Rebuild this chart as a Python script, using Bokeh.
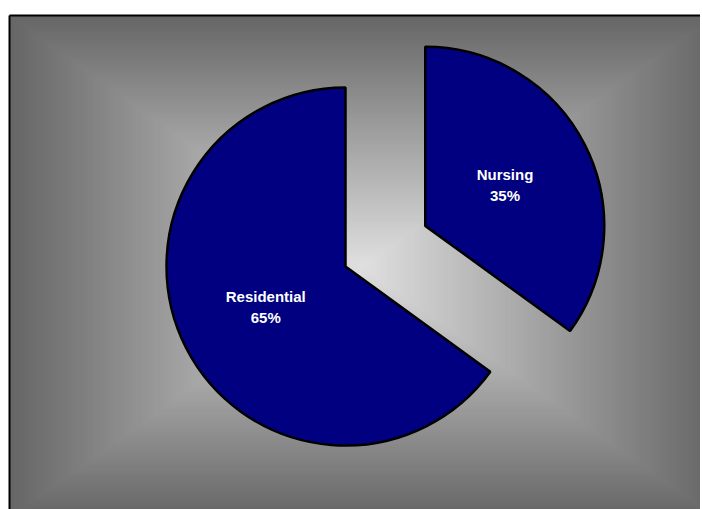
import math
from bokeh.plotting import figure
from bokeh.models import Range1d, ColumnDataSource
from bokeh.core.properties import value
from bokeh.embed import file_html
from bokeh.resources import INLINE

# ---- data ----
categories = ["Residential", "Nursing"]
shares = [65, 35]
explode = [0.0, 0.5]

W, H = 700, 509
p = figure(width=W, height=H, output_backend="svg", toolbar_location=None,
           x_range=Range1d(0, W), y_range=Range1d(0, H), min_border=0)
p.axis.visible = False
p.grid.visible = False
p.outline_line_color = None
p.background_fill_color = "white"
p.border_fill_color = "white"

# ---- rectangular "from centre" gradient background ----
gcx, gcy = 362, 243
ghw, ghh = 353, 251
N = 140
lefts, rights, tops, bottoms, cols = [], [], [], [], []
for i in range(N):
    d = 1 - i / N
    g = int(round(102 + (224 - 102) * (1 - d)))
    lefts.append(gcx - ghw * d)
    rights.append(gcx + ghw * d)
    tops.append(gcy + ghh * d)
    bottoms.append(gcy - ghh * d)
    cols.append("#%02x%02x%02x" % (g, g, g))
p.quad(left=lefts, right=rights, top=tops, bottom=bottoms,
       fill_color=cols, line_color=None)
# frame border: only the top and left edges fall inside the window
fl, ft = gcx - ghw, gcy + ghh
p.segment(x0=[fl, fl], y0=[ft, ft], x1=[W + 5, fl], y1=[ft, -5],
          line_color="black", line_width=2)

# ---- pie ----
cx, cy, R = 345, 243, 179
total = sum(shares)
start = 90.0
xs, ys, sa, ea, lx, ly, labels = [], [], [], [], [], [], []
for cat, v, ex in zip(categories, shares, explode):
    span = 360.0 * v / total
    a0, a1 = start, start + span
    mid = math.radians((a0 + a1) / 2)
    ox = cx + ex * R * math.cos(mid)
    oy = cy + ex * R * math.sin(mid)
    xs.append(ox)
    ys.append(oy)
    sa.append(math.radians(a0))
    ea.append(math.radians(a1))
    lx.append(ox + 0.5 * R * math.cos(mid))
    ly.append(oy + 0.5 * R * math.sin(mid))
    labels.append("%s\n%d%%" % (cat, round(100 * v / total)))
    start = a1

src = ColumnDataSource(dict(x=xs, y=ys, sa=sa, ea=ea))
p.wedge(x="x", y="y", radius=R, start_angle="sa", end_angle="ea",
        direction="anticlock", source=src,
        fill_color="#000080", line_color="black", line_width=2.5)

p.text(x=lx, y=ly, text=labels, text_color="white",
       text_font=value("Liberation Sans"), text_font_style="bold",
       text_font_size="15px", text_align="center", text_baseline="middle",
       text_line_height=1.25)

open("out.html", "w").write(file_html(p, INLINE))
